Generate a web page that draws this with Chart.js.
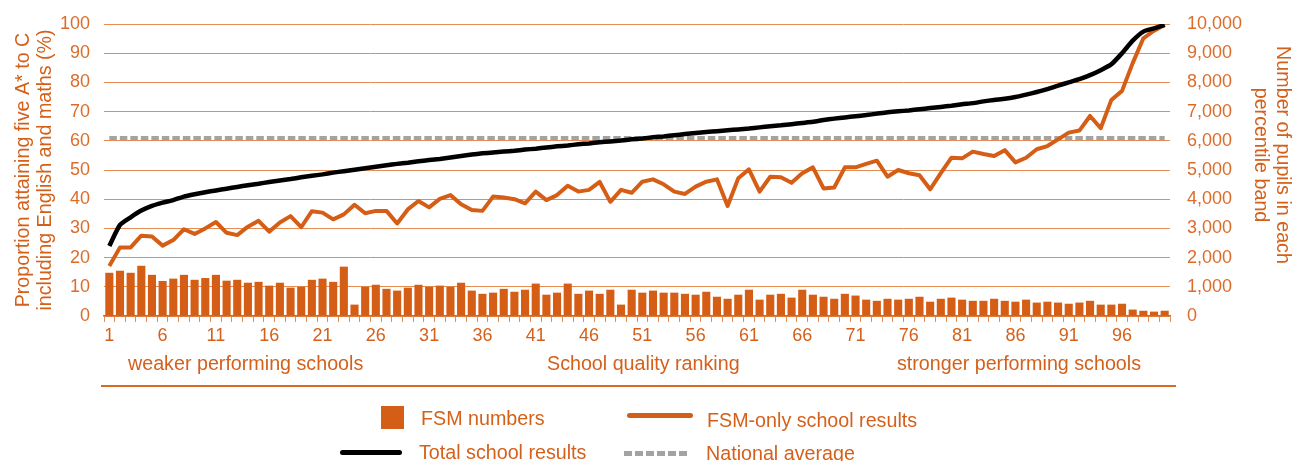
<!DOCTYPE html>
<html>
<head>
<meta charset="utf-8">
<script src="https://cdn.jsdelivr.net/npm/chart.js@4.4.1/dist/chart.umd.min.js"></script>
<style>
  html, body { margin: 0; padding: 0; background: #fff; }
  #wrap { position: relative; width: 1295px; height: 461px; overflow: hidden;
          font-family: "Liberation Sans", Arial, sans-serif; color: #d4601a; }
  #chart { position: absolute; left: 0; top: 0; }
  .note { position: absolute; top: 352px; font-size: 19.7px; line-height: 22px; white-space: nowrap; }
  #rule { position: absolute; left: 101px; top: 385px; width: 1075px; height: 2px; background: #d86a28; }
  .swatch { position: absolute; }
  .lgtext { position: absolute; font-size: 19.7px; line-height: 22px; white-space: nowrap; }
</style>
</head>
<body>
<div id="wrap">
  <canvas id="chart" width="1295" height="461"></canvas>
  <div class="note" style="left:128px">weaker performing schools</div>
  <div class="note" style="left:547px">School quality ranking</div>
  <div class="note" style="left:897px">stronger performing schools</div>
  <div id="rule"></div>
  <div id="legend"></div>
</div>
<script>
// percentile bands 1..100
const categories = Array.from({ length: 100 }, (_, i) => String(i + 1));

// FSM numbers (right axis, pupils per percentile band)
const fsmNumbers = [
  1480, 1550, 1480, 1720, 1410, 1200, 1280, 1410, 1240, 1300,
  1410, 1210, 1240, 1140, 1170, 1040, 1140, 970, 1000, 1240,
  1280, 1170, 1690, 390, 1000, 1070, 930, 870, 970, 1070,
  1000, 1040, 1000, 1140, 870, 760, 800, 930, 830, 900,
  1110, 730, 800, 1110, 760, 870, 760, 900, 390, 900,
  800, 870, 800, 800, 760, 730, 830, 660, 590, 730,
  900, 560, 730, 760, 630, 900, 730, 660, 590, 760,
  700, 560, 520, 590, 560, 590, 660, 490, 590, 630,
  560, 520, 520, 590, 520, 490, 560, 460, 490, 460,
  420, 460, 520, 390, 390, 420, 220, 180, 150, 180
];

// FSM-only school results (% five A*-C incl. English and maths)
const fsmOnlyResults = [
  17.1, 23.5, 23.5, 27.5, 27.2, 24.1, 26.0, 29.7, 28.1, 30.0,
  32.2, 28.5, 27.7, 30.6, 32.6, 28.9, 32.0, 34.2, 30.4, 35.9,
  35.4, 33.1, 34.8, 38.1, 35.2, 36.0, 36.0, 31.7, 36.5, 39.4,
  37.2, 40.1, 41.4, 38.3, 36.3, 36.0, 40.9, 40.6, 40.0, 38.6,
  42.6, 39.7, 41.4, 44.6, 42.6, 43.2, 45.9, 39.1, 43.2, 42.2,
  46.0, 46.8, 45.1, 42.6, 41.8, 44.3, 46.0, 46.8, 37.7, 47.2,
  50.2, 42.6, 47.7, 47.5, 45.6, 48.9, 50.9, 43.7, 44.0, 50.9,
  50.9, 52.1, 53.2, 47.7, 50.0, 48.9, 48.2, 43.4, 48.9, 54.2,
  54.0, 56.3, 55.5, 54.8, 56.8, 52.6, 54.2, 57.1, 58.2, 60.5,
  62.8, 63.5, 68.5, 64.3, 74.0, 77.1, 86.6, 95.1, 97.7, 99.7
];

// Total school results
const totalResults = [
  24.0, 31.2, 33.8, 36.1, 37.7, 38.8, 39.7, 40.9, 41.7, 42.4,
  43.0, 43.6, 44.2, 44.8, 45.3, 45.9, 46.4, 46.9, 47.5, 48.0,
  48.5, 49.1, 49.6, 50.1, 50.6, 51.1, 51.6, 52.1, 52.5, 53.0,
  53.4, 53.8, 54.3, 54.8, 55.3, 55.7, 56.0, 56.3, 56.6, 57.0,
  57.3, 57.7, 58.1, 58.4, 58.8, 59.1, 59.5, 59.8, 60.1, 60.5,
  60.8, 61.2, 61.5, 61.9, 62.3, 62.7, 63.0, 63.3, 63.6, 63.9,
  64.2, 64.6, 65.0, 65.3, 65.7, 66.1, 66.5, 67.1, 67.6, 68.0,
  68.4, 68.8, 69.3, 69.8, 70.1, 70.4, 70.8, 71.2, 71.6, 72.0,
  72.5, 72.9, 73.5, 74.0, 74.4, 75.0, 75.8, 76.7, 77.7, 78.9,
  80.0, 81.1, 82.5, 84.2, 86.2, 90.0, 94.3, 97.4, 98.5, 99.7
];

const nationalAverage = 61;

const leftTitle = ['Proportion attaining five A* to C', 'including English and maths (%)'];
const rightTitle = ['Number of pupils in each', 'percentile band'];

const orange = '#d55e16';
const textOrange = '#d4601a';
const tickOrange = '#dc6c2a';
const gridOrange = '#e48c52';
const FONT = '"Liberation Sans", Arial, sans-serif';

/* right axis title, drawn by hand so it can sit a bit higher than centre */
const rightTitlePlugin = {
  id: 'rightTitle',
  afterDraw(chart) {
    const s = chart.scales.y1;
    const ctx = chart.ctx;
    ctx.save();
    ctx.translate(s.right - 13, (chart.chartArea.top + chart.chartArea.bottom) / 2 - 15);
    ctx.rotate(Math.PI / 2);
    ctx.font = '19.7px ' + FONT;
    ctx.fillStyle = textOrange;
    ctx.textAlign = 'center';
    ctx.textBaseline = 'middle';
    rightTitle.forEach((t, i) => ctx.fillText(t, 0, i * 22));
    ctx.restore();
  }
};

// fixed widths; keep tick padding from pushing the plot top down
const fixY = w => s => { s.width = w; s.paddingTop = 11; s.paddingBottom = 11; };

const chart = new Chart(document.getElementById('chart'), {
  type: 'bar',
  data: {
    labels: categories,
    datasets: [
      {
        type: 'bar', label: 'FSM numbers', data: fsmNumbers, yAxisID: 'y1',
        backgroundColor: orange, barPercentage: 0.76, categoryPercentage: 1, order: 4
      },
      {
        type: 'line', label: 'FSM-only school results', data: fsmOnlyResults, yAxisID: 'y',
        borderColor: orange, borderWidth: 4, pointRadius: 0, tension: 0,
        borderJoinStyle: 'round', order: 2
      },
      {
        type: 'line', label: 'Total school results', data: totalResults, yAxisID: 'y',
        borderColor: '#000', borderWidth: 4.5, pointRadius: 0, tension: 0.2, order: 1
      },
      {
        type: 'line', label: 'National average', data: categories.map(() => nationalAverage), yAxisID: 'y',
        borderColor: '#a3a3a3', borderWidth: 4, borderDash: [7.5, 3], pointRadius: 0, order: 3
      }
    ]
  },
  options: {
    responsive: false,
    animation: false,
    layout: { padding: { top: 24, right: 0, bottom: 115, left: 0 } },
    plugins: { legend: { display: false }, tooltip: { enabled: false } },
    scales: {
      x: {
        afterFit: s => { s.height = 30; },
        grid: { drawOnChartArea: false, drawTicks: true, tickLength: 6, color: gridOrange, offset: true },
        border: { color: '#d86a28', width: 1.5 },
        ticks: {
          autoSkip: false, maxRotation: 0, padding: 3, color: textOrange,
          font: { family: FONT, size: 18 },
          callback: (v, i) => (i % 5 === 0 ? categories[i] : '')
        }
      },
      y: {
        position: 'left', min: 0, max: 100,
        afterFit: fixY(104),
        grid: { color: gridOrange, drawTicks: false },
        border: { display: false },
        ticks: { stepSize: 10, padding: 14, color: tickOrange, font: { family: FONT, size: 18 } },
        title: {
          display: true, text: leftTitle, color: textOrange,
          font: { family: FONT, size: 19.7, lineHeight: 1.14 }, padding: { top: 12, bottom: 0 }
        }
      },
      y1: {
        position: 'right', min: 0, max: 10000,
        afterFit: fixY(125),
        grid: { drawOnChartArea: false, drawTicks: false },
        border: { display: false },
        ticks: {
          stepSize: 1000, padding: 17, color: tickOrange, font: { family: FONT, size: 18 },
          callback: v => v.toLocaleString('en-US')
        }
      }
    }
  },
  plugins: [rightTitlePlugin]
});

/* html legend laid out in two rows like the original */
const legendSlots = [
  { swatch: [381, 406, 23, 23], text: [421, 407] },
  { swatch: [627, 413, 66, 5], text: [707, 409] },
  { swatch: [340, 450, 62, 5], text: [419, 441] },
  { swatch: [624, 451, 66, 5], text: [706, 442] }
];
const legendEl = document.getElementById('legend');
chart.data.datasets.forEach((ds, i) => {
  const slot = legendSlots[i];
  const sw = document.createElement('div');
  sw.className = 'swatch';
  sw.style.left = slot.swatch[0] + 'px';
  sw.style.top = slot.swatch[1] + 'px';
  sw.style.width = slot.swatch[2] + 'px';
  sw.style.height = slot.swatch[3] + 'px';
  if (ds.type === 'bar') {
    sw.style.background = ds.backgroundColor;
  } else if (ds.borderDash) {
    sw.style.background = `repeating-linear-gradient(to right, ${ds.borderColor} 0 8px, transparent 8px 11px)`;
  } else {
    sw.style.background = ds.borderColor;
    sw.style.borderRadius = '3px';
  }
  const tx = document.createElement('div');
  tx.className = 'lgtext';
  tx.style.left = slot.text[0] + 'px';
  tx.style.top = slot.text[1] + 'px';
  tx.textContent = ds.label;
  legendEl.appendChild(sw);
  legendEl.appendChild(tx);
});
</script>
</body>
</html>
